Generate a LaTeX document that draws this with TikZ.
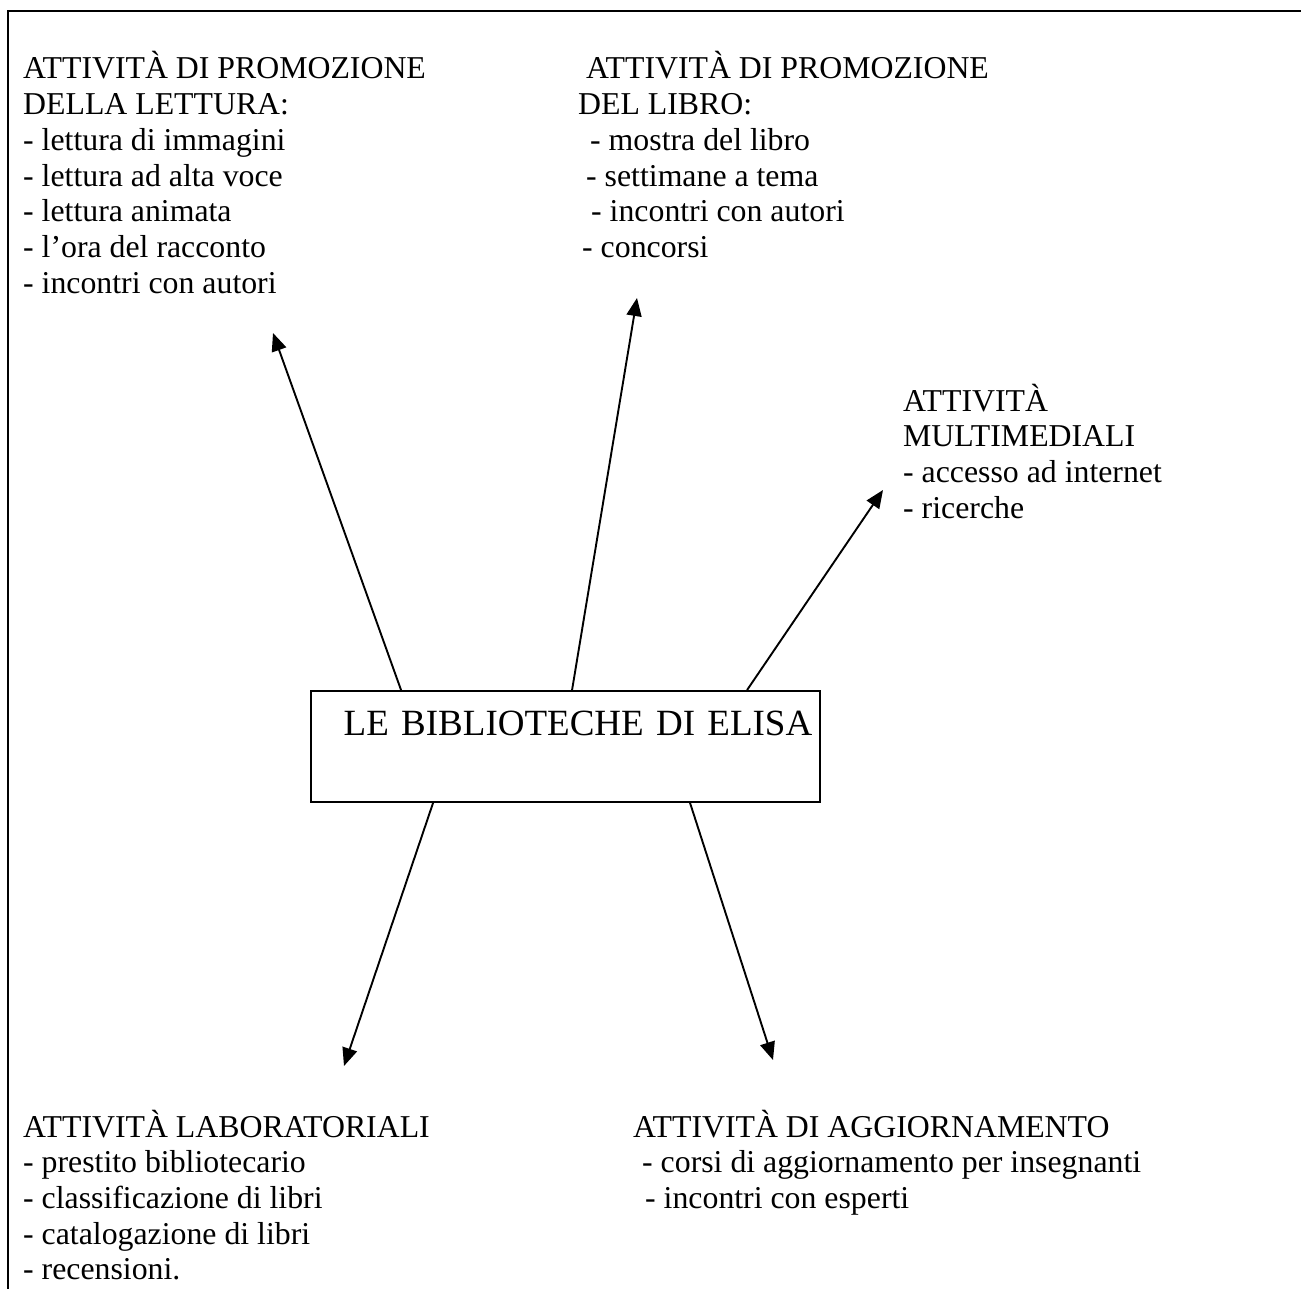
\documentclass[tikz,border=0pt]{standalone}
\usepackage{fontspec}
\setmainfont{Liberation Serif}
\usetikzlibrary{arrows.meta,calc}
\newcommand\blklines[1]{\vtop{\baselineskip=35.7pt\lineskiplimit=-100pt\lineskip=0pt #1}}
\tikzset{
  txt/.style={anchor=base west, inner sep=0pt, font=\fontsize{31.8}{35.7}\selectfont},
  arr/.style={line width=1.9pt, -{Triangle[length=18pt,width=15pt]}},
  frame/.style={line width=2pt}
}
\begin{document}
\begin{tikzpicture}[x=1pt,y=-1pt]
\useasboundingbox (0,0) rectangle (1301,1289);
\fill[white] (0,0) rectangle (1301,1289);
\draw[frame] (8,1289) -- (8,11) -- (1301,11);

\node[txt] (lettura) at (23,79) {\blklines{%
\hbox{ATTIVITÀ DI PROMOZIONE}
\hbox{DELLA LETTURA:}
\hbox{- lettura di immagini}
\hbox{- lettura ad alta voce}
\hbox{- lettura animata}
\hbox{- l’ora del racconto}
\hbox{- incontri con autori}}};

\node[txt] (libro) at (578,79) {\blklines{%
\hbox{\kern8pt ATTIVITÀ DI PROMOZIONE}
\hbox{DEL LIBRO:}
\hbox{\kern12pt - mostra del libro}
\hbox{\kern8pt - settimane a tema}
\hbox{\kern13pt - incontri con autori}
\hbox{\kern4pt - concorsi}}};

\node[txt] (multi) at (903,411) {\blklines{%
\hbox{ATTIVITÀ}
\hbox{MULTIMEDIALI}
\hbox{- accesso ad internet}
\hbox{- ricerche}}};

\node[txt] (lab) at (23,1137) {\blklines{%
\hbox{ATTIVITÀ LABORATORIALI}
\hbox{- prestito bibliotecario}
\hbox{- classificazione di libri}
\hbox{- catalogazione di libri}
\hbox{- recensioni.}}};

\node[txt] (agg) at (633,1137) {\blklines{%
\hbox{ATTIVITÀ DI AGGIORNAMENTO}
\hbox{\kern9pt - corsi di aggiornamento per insegnanti}
\hbox{\kern12pt - incontri con esperti}}};

\node[draw, line width=1.9pt, anchor=base, inner sep=0pt, text width=509pt, align=center,
      text height=44pt, text depth=67pt, font=\fontsize{37}{42}\selectfont]
  (box) at (565.5,735) {\hspace*{25pt}LE BIBLIOTECHE DI ELISA};

\coordinate (t1) at (273,333);
\coordinate (t2) at (637,298);
\coordinate (t3) at (883,490);
\coordinate (t4) at (344,1066);
\coordinate (t5) at (773,1060);

\draw[arr] ($(box.north west)+(91,0)$) -- (t1);
\draw[arr] ($(box.north west)+(262,0)$) -- (t2);
\draw[arr] ($(box.north west)+(437,0)$) -- (t3);
\draw[arr] ($(box.south west)+(123,0)$) -- (t4);
\draw[arr] ($(box.south west)+(380,0)$) -- (t5);
\end{tikzpicture}
\end{document}
